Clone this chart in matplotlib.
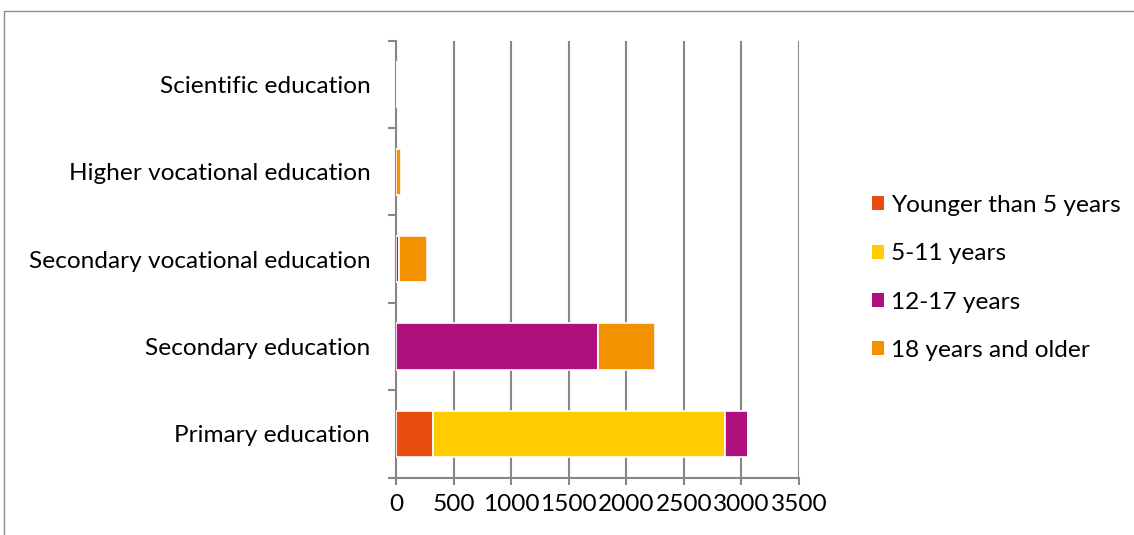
import matplotlib
matplotlib.use("Agg")
import matplotlib.pyplot as plt
from matplotlib.patches import Rectangle
import numpy as np

categories = ["Primary education", "Secondary education", "Secondary vocational education",
              "Higher vocational education", "Scientific education"]
series_names = ["Younger than 5 years", "5-11 years", "12-17 years", "18 years and older"]
younger5 = [325, 0, 0, 0, 0]
age5_11 = [2535, 0, 0, 0, 0]
age12_17 = [195, 1750, 28, 0, 0]
age18plus = [0, 500, 242, 40, 4]
colors = ["#E84C0E", "#FFCC00", "#B0107E", "#F39200"]
xticks = [0, 500, 1000, 1500, 2000, 2500, 3000, 3500]

plt.rcParams['font.family'] = ['Lato', 'DejaVu Sans']
FS = 17.6

W, H = 1134, 535
fig = plt.figure(figsize=(W / 100, H / 100), dpi=100)
fig.patches.append(Rectangle((3.5 / W, -0.1), 1.2, (H - 11) / H + 0.1, transform=fig.transFigure,
                             fill=False, edgecolor="#8C8C8C", linewidth=1))

left, right, top, bottom = 396, 799, 40.7, 477.7
ax = fig.add_axes([left / W, 1 - bottom / H, (right - left) / W, (bottom - top) / H])

y = np.arange(len(categories))
data = [younger5, age5_11, age12_17, age18plus]
cum = np.zeros(len(categories))
for name, vals, c in zip(series_names, data, colors):
    v = np.array(vals, dtype=float)
    ax.barh(y, v, left=cum, height=0.53, color=c, edgecolor="white", linewidth=1.2,
            label=name, zorder=3)
    cum += v

ax.set_xlim(0, 3500)
ax.set_ylim(-0.5, len(categories) - 0.5)
ax.set_xticks(xticks)
ax.set_xticklabels([str(t) for t in xticks])
ax.set_yticks(y)
ax.set_yticklabels(categories)
ax.set_yticks(np.arange(len(categories) + 1) - 0.5, minor=True)
ax.tick_params(axis='y', which='major', length=0, pad=18.5, labelsize=FS)
ax.tick_params(axis='y', which='minor', length=6, width=1.5, color="#878787")
ax.tick_params(axis='x', length=5, width=1.5, color="#878787", labelsize=FS, pad=7)
ax.grid(axis='x', color="#878787", linewidth=1.5, zorder=0)
for s in ["top", "right"]:
    ax.spines[s].set_visible(False)
for s in ["left", "bottom"]:
    ax.spines[s].set_color("#878787")
    ax.spines[s].set_linewidth(1.5)

handles, labels = ax.get_legend_handles_labels()
leg = fig.legend(handles, labels, loc="center left", bbox_to_anchor=(872 / W, 1 - 278 / H),
                 frameon=False, fontsize=FS, handlelength=0.49, handleheight=0.49,
                 handletextpad=0.3, labelspacing=1.12, borderpad=0, borderaxespad=0)
for h in leg.legend_handles:
    h.set_edgecolor("none")

fig.savefig("out.png", dpi=100)
